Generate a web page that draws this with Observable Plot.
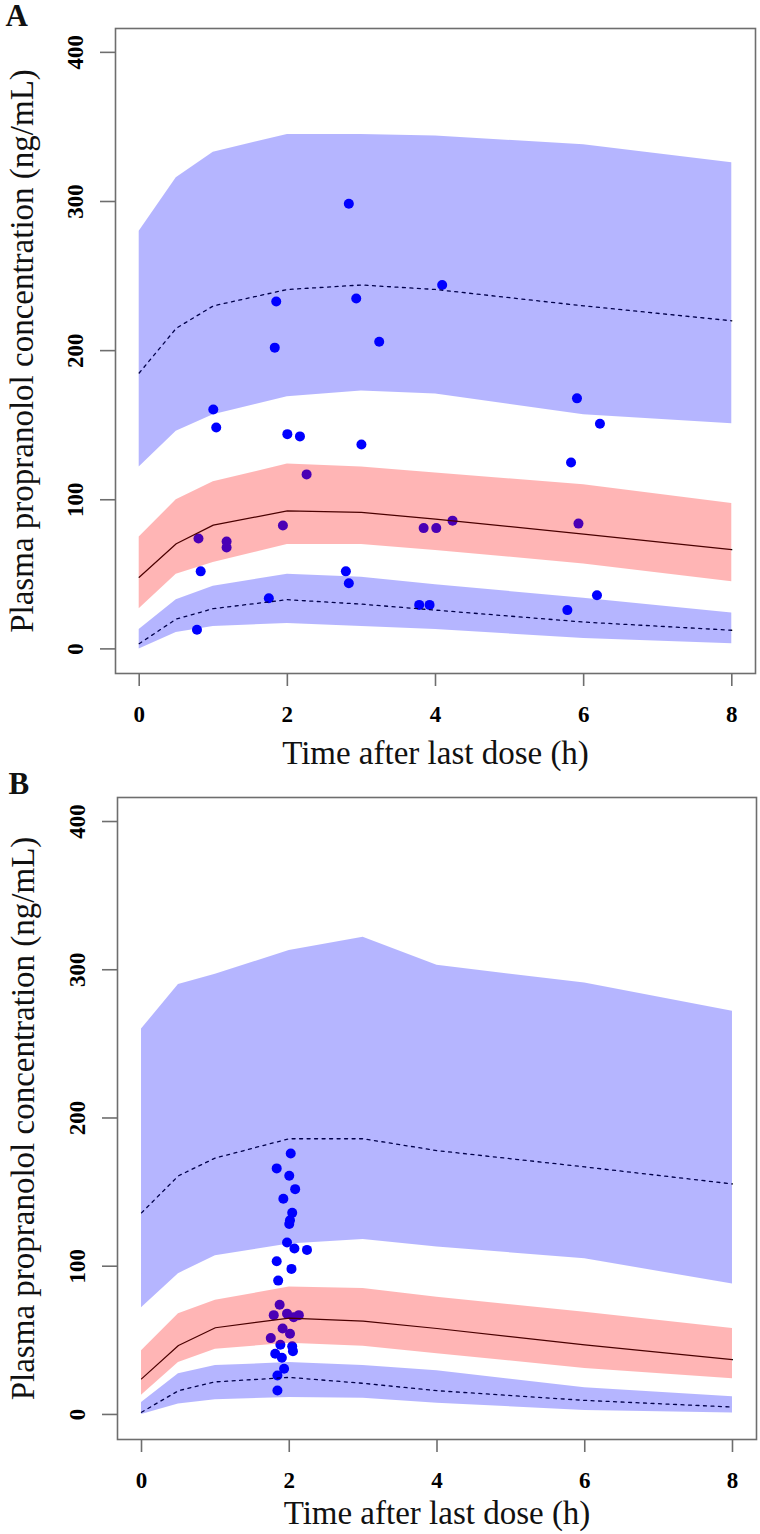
<!DOCTYPE html>
<html><head><meta charset="utf-8">
<script src="https://cdn.jsdelivr.net/npm/d3@7"></script>
<script src="https://cdn.jsdelivr.net/npm/@observablehq/plot@0.6"></script>
<style>body{margin:0;background:#fff;} #chart svg{display:block;}</style>
</head><body><div id="chart"></div>
<script>
// ---- shared ----
const times = [0, 0.5, 1, 2, 3, 4, 6, 8];
const xTicks = [0, 2, 4, 6, 8];
const yTicks = [0, 100, 200, 300, 400];
const xLabel = "Time after last dose (h)";
const yLabel = "Plasma propranolol concentration (ng/mL)";

// ---- Panel A ----
const aUpperHi  = [280, 316, 333, 345, 345, 344, 338, 326];
const aUpperLo  = [122, 146, 157, 169, 173, 171, 157, 151];
const aUpperMed = [185, 215, 230, 241, 244, 241, 230, 220];
const aMidHi    = [75, 100, 112, 124, 122, 118, 110, 97.5];
const aMidLo    = [27, 50, 58, 70, 70, 66, 57, 45];
const aMidMed   = [48, 70.5, 83, 92.5, 91.5, 87, 77, 66.5];
const aLowHi    = [13, 33, 42, 50, 48, 43, 34, 24];
const aLowLo    = [0, 11, 15, 17, 15, 13, 7, 3.5];
const aLowMed   = [3.5, 20, 27, 33, 30, 26, 18, 12.5];
const aObsTime  = [2.83, 1.85, 2.93, 1.83, 3.24, 4.09, 1.0, 1.04, 2.0, 2.17, 3.0, 2.26, 1.94, 0.8, 1.18, 1.18,
                   0.83, 2.79, 2.83, 1.75, 0.78, 5.91, 6.22, 5.83, 3.84, 4.01, 4.23, 5.93, 6.18, 3.78, 3.92, 5.78];
const aObsConc  = [298.5, 233, 235, 202, 206, 244, 160.5, 148.5, 144, 142.5, 137, 117, 82.7, 74, 72, 68,
                   52, 52, 44, 34, 12.8, 168, 151, 125, 81, 81, 86, 84, 36, 29.5, 29.5, 26];

// ---- Panel B ----
const bUpperHi  = [260, 290, 297, 313, 322, 303, 291, 272];
const bUpperLo  = [72, 95, 107, 115, 118, 113, 105, 88];
const bUpperMed = [136, 161, 173, 186, 186, 178, 167, 155.5];
const bMidHi    = [43, 68, 77, 86, 85, 79, 69, 58];
const bMidLo    = [13, 35, 44, 48, 46, 41, 31, 24];
const bMidMed   = [24, 46.5, 58.5, 65, 63, 58, 47, 37];
const bLowHi    = [8, 27.5, 33, 35, 33, 29.5, 18, 12];
const bLowLo    = [0, 7, 10, 11.5, 11, 7.5, 2.7, 1];
const bLowMed   = [1.5, 16, 22, 25, 21, 16, 9.5, 5];
const bObsTime  = [2.02, 1.83, 2.0, 2.08, 1.92, 2.04, 2.01, 2.0, 1.97, 2.07, 2.24, 1.83, 2.03, 1.85,
                   1.87, 1.79, 1.97, 2.06, 2.13, 1.91, 2.01, 1.75, 1.88, 2.04, 2.05, 1.81, 1.9, 1.93, 1.84, 1.84];
const bObsConc  = [176, 166, 161, 152, 145.5, 136, 131, 128.5, 116, 112, 111, 103.4, 98.2, 90.3,
                   74, 67, 68, 65.6, 67, 58, 54.4, 51.5, 47, 46, 42.7, 41, 38.2, 30.8, 26.3, 16.2];

function panel(cfg) {
  const bands = [
    [cfg.upperLo, cfg.upperHi, "blue"],
    [cfg.midLo, cfg.midHi, "red"],
    [cfg.lowLo, cfg.lowHi, "blue"]
  ];
  return Plot.plot({
    width: 760,
    height: 767,
    marginLeft: cfg.ml, marginRight: cfg.mr, marginTop: cfg.mt, marginBottom: cfg.mb,
    x: {domain: cfg.xd},
    y: {domain: cfg.yd},
    style: {fontFamily: "'Liberation Serif', 'Times New Roman', serif", background: "white", overflow: "visible"},
    marks: [
      Plot.dot(cfg.obsT, {x: d => d, y: (d, i) => cfg.obsC[i], r: 5, fill: "#0000ff"}),
      Plot.line(times, {x: d => d, y: (d, i) => cfg.midMed[i], stroke: "black", strokeWidth: 1.2}),
      Plot.line(times, {x: d => d, y: (d, i) => cfg.upperMed[i], stroke: "black", strokeWidth: 1.3, strokeDasharray: "3,4.5"}),
      Plot.line(times, {x: d => d, y: (d, i) => cfg.lowMed[i], stroke: "black", strokeWidth: 1.3, strokeDasharray: "3,4.5"}),
      ...bands.map(([lo, hi, c]) => Plot.areaY(times, {x: d => d, y1: (d, i) => lo[i], y2: (d, i) => hi[i], fill: c, fillOpacity: 0.29})),
      Plot.frame({stroke: "#6e6e6e", strokeWidth: 1.6}),
      Plot.axisX(xTicks, {tickSize: 13, tickPadding: 19, fontSize: 23, fontWeight: "bold", stroke: "#6e6e6e", strokeWidth: 1.6, label: null}),
      Plot.axisY(yTicks, {tickSize: 15, tickPadding: 18, tickRotate: -90, fontSize: 23, fontWeight: "bold", stroke: "#6e6e6e", strokeWidth: 1.6, label: null}),
      Plot.text([xLabel], {text: d => d, frameAnchor: "bottom", dy: cfg.xTitleDy, lineAnchor: "bottom", fontSize: 33, fill: "#111"}),
      Plot.text([yLabel], {text: d => d, frameAnchor: "left", dx: cfg.yTitleDx, rotate: -90, lineAnchor: "bottom", textAnchor: "middle", fontSize: 33, fill: "#111"}),
      Plot.text([cfg.tag], {text: d => d, frameAnchor: "top-left", dx: cfg.tagDx, dy: cfg.tagDy, textAnchor: "start", lineAnchor: "bottom", fontSize: 31, fontWeight: "bold", fill: "#111"})
    ]
  });
}

const chart = document.getElementById("chart");
chart.append(panel({
  tag: "A", ml: 115, mr: 5, mt: 28, mb: 94, xd: [-0.32, 8.32], yd: [-16.5, 416],
  upperHi: aUpperHi, upperLo: aUpperLo, upperMed: aUpperMed,
  midHi: aMidHi, midLo: aMidLo, midMed: aMidMed,
  lowHi: aLowHi, lowLo: aLowLo, lowMed: aLowMed,
  obsT: aObsTime, obsC: aObsConc,
  xTitleDy: 90, yTitleDx: -83, tagDx: -110, tagDy: -3
}));
chart.append(panel({
  tag: "B", ml: 117, mr: 4, mt: 30, mb: 95, xd: [-0.325, 8.325], yd: [-16.9, 416.2],
  upperHi: bUpperHi, upperLo: bUpperLo, upperMed: bUpperMed,
  midHi: bMidHi, midLo: bMidLo, midMed: bMidMed,
  lowHi: bLowHi, lowLo: bLowLo, lowMed: bLowMed,
  obsT: bObsTime, obsC: bObsConc,
  xTitleDy: 84, yTitleDx: -84, tagDx: -109, tagDy: -4
}));
</script>
</body></html>
